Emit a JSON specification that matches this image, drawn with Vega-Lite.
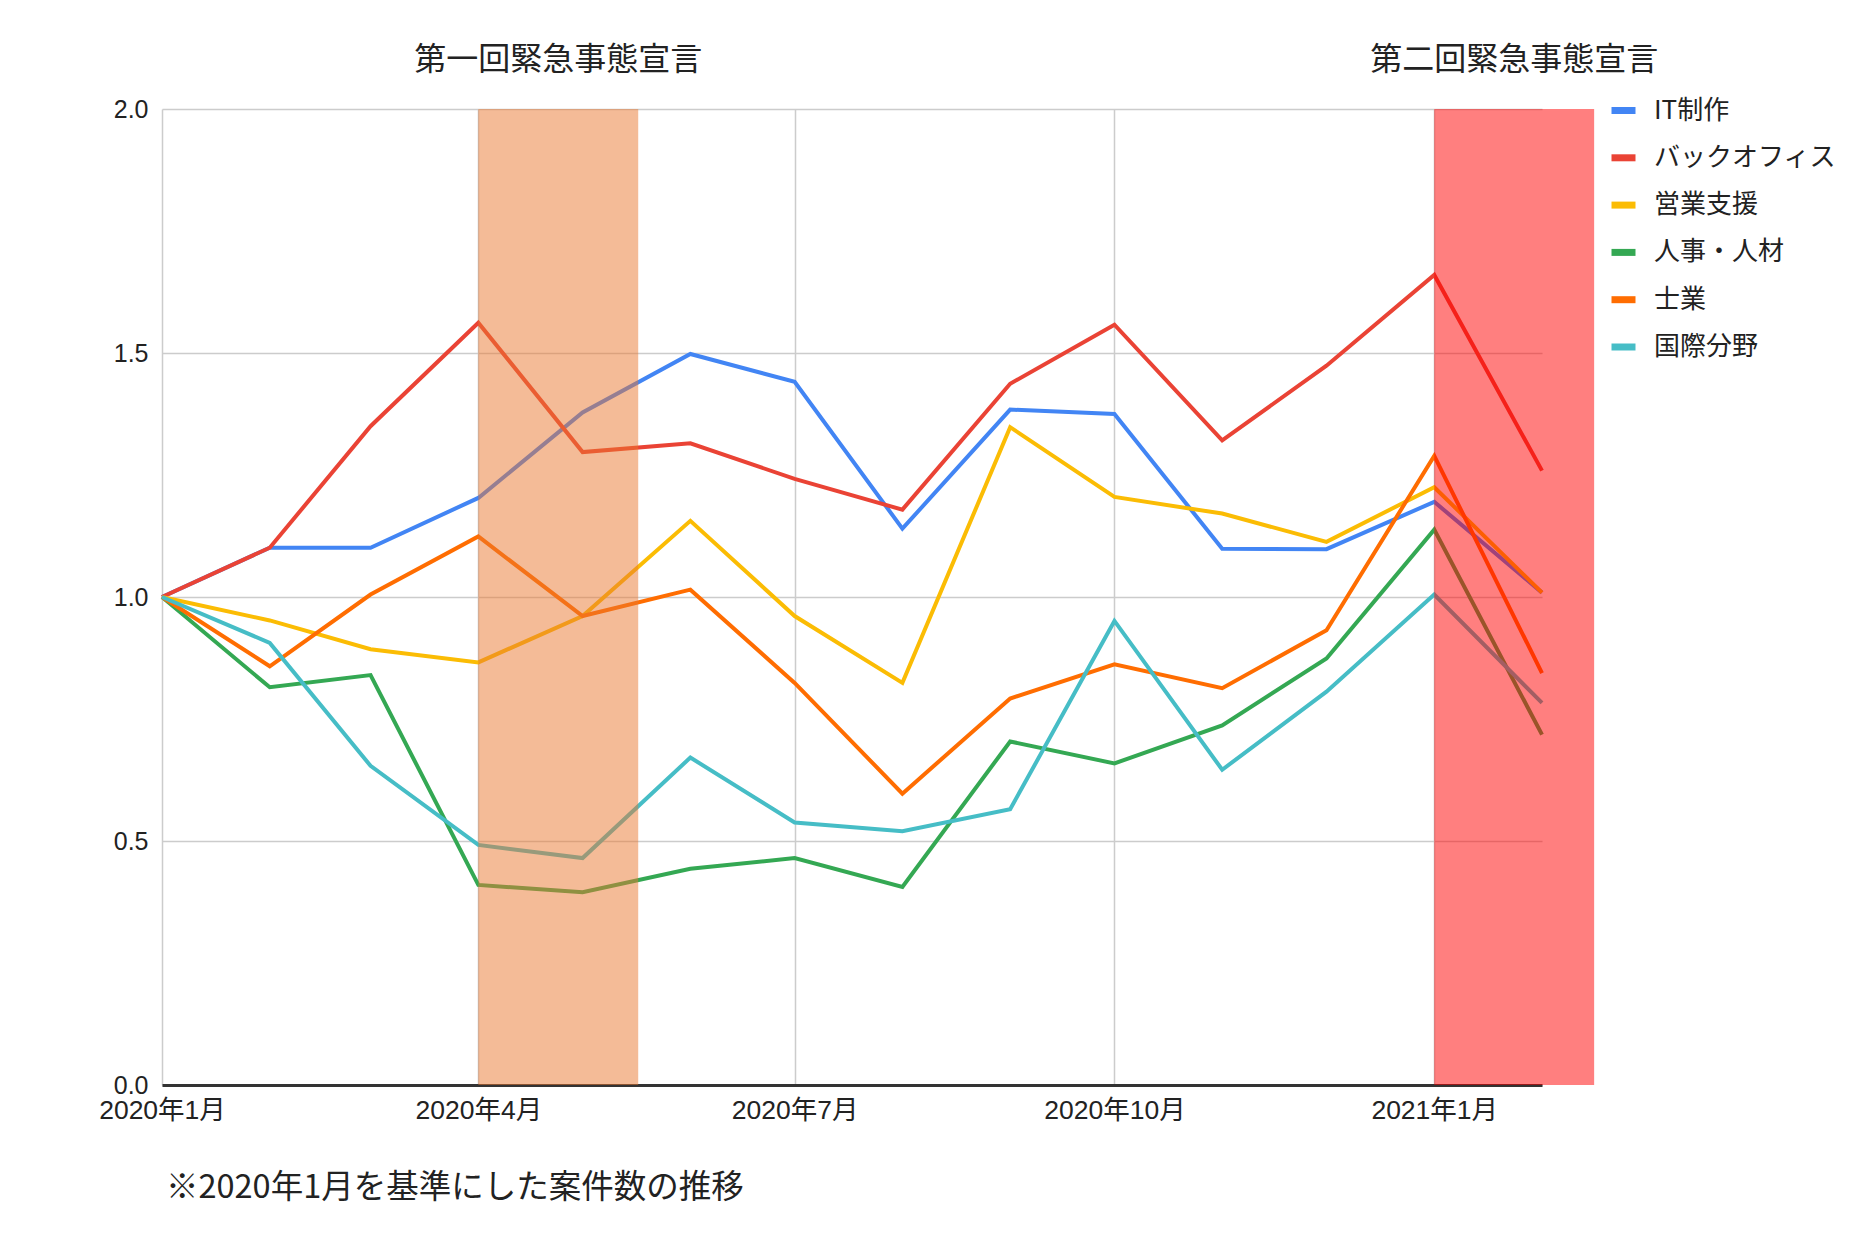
{
  "$schema": "https://vega.github.io/schema/vega-lite/v6.json",
  "autosize": {"type": "none"},
  "width": 1380,
  "height": 976,
  "padding": {"left": 162, "top": 109, "right": 324, "bottom": 163},
  "background": "white",
  "datasets": {
    "series": [
      {"month": "2020/01/01", "field": "IT制作", "value": 1.000},
      {"month": "2020/02/01", "field": "IT制作", "value": 1.101},
      {"month": "2020/03/01", "field": "IT制作", "value": 1.101},
      {"month": "2020/04/01", "field": "IT制作", "value": 1.203},
      {"month": "2020/05/01", "field": "IT制作", "value": 1.378},
      {"month": "2020/06/01", "field": "IT制作", "value": 1.498},
      {"month": "2020/07/01", "field": "IT制作", "value": 1.441},
      {"month": "2020/08/01", "field": "IT制作", "value": 1.140},
      {"month": "2020/09/01", "field": "IT制作", "value": 1.384},
      {"month": "2020/10/01", "field": "IT制作", "value": 1.375},
      {"month": "2020/11/01", "field": "IT制作", "value": 1.099},
      {"month": "2020/12/01", "field": "IT制作", "value": 1.098},
      {"month": "2021/01/01", "field": "IT制作", "value": 1.195},
      {"month": "2021/02/01", "field": "IT制作", "value": 1.009},
      {"month": "2020/01/01", "field": "バックオフィス", "value": 1.000},
      {"month": "2020/02/01", "field": "バックオフィス", "value": 1.101},
      {"month": "2020/03/01", "field": "バックオフィス", "value": 1.350},
      {"month": "2020/04/01", "field": "バックオフィス", "value": 1.562},
      {"month": "2020/05/01", "field": "バックオフィス", "value": 1.297},
      {"month": "2020/06/01", "field": "バックオフィス", "value": 1.315},
      {"month": "2020/07/01", "field": "バックオフィス", "value": 1.242},
      {"month": "2020/08/01", "field": "バックオフィス", "value": 1.179},
      {"month": "2020/09/01", "field": "バックオフィス", "value": 1.437},
      {"month": "2020/10/01", "field": "バックオフィス", "value": 1.558},
      {"month": "2020/11/01", "field": "バックオフィス", "value": 1.321},
      {"month": "2020/12/01", "field": "バックオフィス", "value": 1.474},
      {"month": "2021/01/01", "field": "バックオフィス", "value": 1.660},
      {"month": "2021/02/01", "field": "バックオフィス", "value": 1.259},
      {"month": "2020/01/01", "field": "営業支援", "value": 1.000},
      {"month": "2020/02/01", "field": "営業支援", "value": 0.952},
      {"month": "2020/03/01", "field": "営業支援", "value": 0.893},
      {"month": "2020/04/01", "field": "営業支援", "value": 0.866},
      {"month": "2020/05/01", "field": "営業支援", "value": 0.961},
      {"month": "2020/06/01", "field": "営業支援", "value": 1.156},
      {"month": "2020/07/01", "field": "営業支援", "value": 0.961},
      {"month": "2020/08/01", "field": "営業支援", "value": 0.824},
      {"month": "2020/09/01", "field": "営業支援", "value": 1.348},
      {"month": "2020/10/01", "field": "営業支援", "value": 1.205},
      {"month": "2020/11/01", "field": "営業支援", "value": 1.171},
      {"month": "2020/12/01", "field": "営業支援", "value": 1.113},
      {"month": "2021/01/01", "field": "営業支援", "value": 1.225},
      {"month": "2021/02/01", "field": "営業支援", "value": 1.009},
      {"month": "2020/01/01", "field": "人事・人材", "value": 1.000},
      {"month": "2020/02/01", "field": "人事・人材", "value": 0.815},
      {"month": "2020/03/01", "field": "人事・人材", "value": 0.840},
      {"month": "2020/04/01", "field": "人事・人材", "value": 0.410},
      {"month": "2020/05/01", "field": "人事・人材", "value": 0.395},
      {"month": "2020/06/01", "field": "人事・人材", "value": 0.443},
      {"month": "2020/07/01", "field": "人事・人材", "value": 0.465},
      {"month": "2020/08/01", "field": "人事・人材", "value": 0.406},
      {"month": "2020/09/01", "field": "人事・人材", "value": 0.704},
      {"month": "2020/10/01", "field": "人事・人材", "value": 0.659},
      {"month": "2020/11/01", "field": "人事・人材", "value": 0.737},
      {"month": "2020/12/01", "field": "人事・人材", "value": 0.874},
      {"month": "2021/01/01", "field": "人事・人材", "value": 1.138},
      {"month": "2021/02/01", "field": "人事・人材", "value": 0.718},
      {"month": "2020/01/01", "field": "士業", "value": 1.000},
      {"month": "2020/02/01", "field": "士業", "value": 0.858},
      {"month": "2020/03/01", "field": "士業", "value": 1.005},
      {"month": "2020/04/01", "field": "士業", "value": 1.124},
      {"month": "2020/05/01", "field": "士業", "value": 0.961},
      {"month": "2020/06/01", "field": "士業", "value": 1.015},
      {"month": "2020/07/01", "field": "士業", "value": 0.824},
      {"month": "2020/08/01", "field": "士業", "value": 0.597},
      {"month": "2020/09/01", "field": "士業", "value": 0.792},
      {"month": "2020/10/01", "field": "士業", "value": 0.862},
      {"month": "2020/11/01", "field": "士業", "value": 0.813},
      {"month": "2020/12/01", "field": "士業", "value": 0.932},
      {"month": "2021/01/01", "field": "士業", "value": 1.289},
      {"month": "2021/02/01", "field": "士業", "value": 0.844},
      {"month": "2020/01/01", "field": "国際分野", "value": 1.000},
      {"month": "2020/02/01", "field": "国際分野", "value": 0.906},
      {"month": "2020/03/01", "field": "国際分野", "value": 0.654},
      {"month": "2020/04/01", "field": "国際分野", "value": 0.492},
      {"month": "2020/05/01", "field": "国際分野", "value": 0.465},
      {"month": "2020/06/01", "field": "国際分野", "value": 0.671},
      {"month": "2020/07/01", "field": "国際分野", "value": 0.538},
      {"month": "2020/08/01", "field": "国際分野", "value": 0.520},
      {"month": "2020/09/01", "field": "国際分野", "value": 0.565},
      {"month": "2020/10/01", "field": "国際分野", "value": 0.951},
      {"month": "2020/11/01", "field": "国際分野", "value": 0.646},
      {"month": "2020/12/01", "field": "国際分野", "value": 0.806},
      {"month": "2021/01/01", "field": "国際分野", "value": 1.005},
      {"month": "2021/02/01", "field": "国際分野", "value": 0.783}
    ],
    "periods": [
      {"label": "第一回緊急事態宣言", "start": "2020/04/01", "end": "2020/05/17"},
      {"label": "第二回緊急事態宣言", "start": "2021/01/01", "end": "2021/02/16"}
    ]
  },
  "title": {
    "text": "※2020年1月を基準にした案件数の推移",
    "orient": "bottom",
    "anchor": "start",
    "frame": "group",
    "offset": 48,
    "font": "Noto Sans CJK JP",
    "fontSize": 32.5,
    "fontWeight": "normal",
    "color": "#222222",
    "dx": 4
  },
  "layer": [
    {
      "data": {"name": "series"},
      "mark": {"type": "line", "strokeWidth": 4},
      "encoding": {
        "x": {
          "field": "month",
          "type": "temporal",
          "scale": {"domain": [{"year": 2020, "month": 1, "date": 1}, {"year": 2021, "month": 2, "date": 1}]},
          "axis": {
            "title": null,
            "values": [
              {"year": 2020, "month": 1, "date": 1},
              {"year": 2020, "month": 4, "date": 1},
              {"year": 2020, "month": 7, "date": 1},
              {"year": 2020, "month": 10, "date": 1},
              {"year": 2021, "month": 1, "date": 1}
            ],
            "format": "%Y年%-m月",
            "grid": true,
            "gridColor": "#cccccc",
            "gridWidth": 1.5,
            "ticks": false,
            "domainColor": "#333333",
            "domainWidth": 3,
            "labelFont": "'Liberation Sans', 'Noto Sans CJK JP'",
            "labelFontSize": 26.5,
            "labelColor": "#222222",
            "labelPadding": 12,
            "labelFlush": false
          }
        },
        "y": {
          "field": "value",
          "type": "quantitative",
          "scale": {"domain": [0, 2]},
          "axis": {
            "title": null,
            "values": [0, 0.5, 1, 1.5, 2],
            "format": ".1f",
            "grid": true,
            "gridColor": "#cccccc",
            "gridWidth": 1.5,
            "domain": false,
            "ticks": false,
            "labelFont": "'Liberation Sans', 'Noto Sans CJK JP'",
            "labelFontSize": 25,
            "labelColor": "#222222",
            "labelPadding": 14
          }
        },
        "color": {
          "field": "field",
          "type": "nominal",
          "scale": {
            "domain": ["IT制作", "バックオフィス", "営業支援", "人事・人材", "士業", "国際分野"],
            "range": ["#4285F4", "#EA4335", "#FBBC04", "#34A853", "#FF6D01", "#46BDC6"]
          },
          "legend": {
            "title": null,
            "orient": "none",
            "legendX": 1446,
            "legendY": -14,
            "symbolType": "stroke",
            "symbolSize": 576,
            "symbolStrokeWidth": 7,
            "labelFont": "Noto Sans CJK JP",
            "labelFontSize": 26,
            "labelColor": "#222222",
            "labelOffset": 15,
            "labelLimit": 0,
            "rowPadding": 17.3,
            "padding": 0
          }
        }
      }
    },
    {
      "data": {"name": "periods"},
      "mark": {"type": "rect", "fillOpacity": 0.5},
      "encoding": {
        "x": {"field": "start", "type": "temporal"},
        "x2": {"field": "end"},
        "y": {"datum": 0, "type": "quantitative"},
        "y2": {"datum": 2},
        "fill": {
          "condition": {"test": "datum.label === '第一回緊急事態宣言'", "value": "#E9772F"},
          "value": "#FF0000"
        }
      }
    },
    {
      "data": {"name": "periods"},
      "transform": [
        {"calculate": "(toDate(datum.start) + toDate(datum.end)) / 2", "as": "mid"}
      ],
      "mark": {
        "type": "text",
        "font": "Noto Sans CJK JP",
        "fontSize": 32,
        "color": "#222222",
        "align": "center",
        "baseline": "middle",
        "dy": -49
      },
      "encoding": {
        "x": {"field": "mid", "type": "temporal"},
        "y": {"datum": 2, "type": "quantitative"},
        "text": {"field": "label"}
      }
    }
  ],
  "config": {
    "view": {"stroke": null}
  }
}
